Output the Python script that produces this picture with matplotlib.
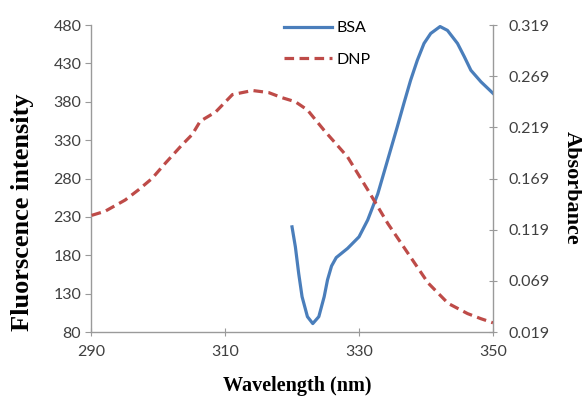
import matplotlib.pyplot as plt

# BSA fluorescence (left axis)
bsa_wl = [320.0, 320.5, 321.0, 321.5, 322.3, 323.1, 324.0, 324.8, 325.3, 325.9, 326.6, 328.3, 330.0,
          331.3, 332.8, 333.8, 334.7, 335.7, 336.7, 337.7, 338.7, 339.7, 340.7, 342.1, 343.2,
          344.7, 345.7, 346.7, 348.2, 350.0]
bsa_int = [217, 191, 156, 126, 100, 91, 100, 126, 148, 166, 177, 189, 204,
           226, 260, 290, 317, 347, 378, 408, 434, 456, 469, 478, 473,
           456, 439, 421, 406, 391]

# DNP absorbance (right axis)
dnp_wl = [290.1, 292.1, 295.1, 297.1, 299.1, 301.1, 303.6, 305.1, 306.3, 308.6, 311.1, 314.1,
          316.5, 318.5, 320.5, 322.3, 324.8, 328.3, 331.3, 334.3, 337.3, 340.3, 343.3, 346.2,
          348.2, 350.0]
dnp_abs = [0.133, 0.137, 0.148, 0.158, 0.169, 0.184, 0.202, 0.212, 0.225, 0.234, 0.251, 0.255,
           0.253, 0.248, 0.244, 0.236, 0.216, 0.190, 0.158, 0.125, 0.096, 0.067, 0.047, 0.037,
           0.032, 0.028]

left_ticks = [80, 130, 180, 230, 280, 330, 380, 430, 480]
right_ticks = [0.019, 0.069, 0.119, 0.169, 0.219, 0.269, 0.319]
x_ticks = [290, 310, 330, 350]

grey = '#9a9a9a'
txt = '#404040'

fig = plt.figure(figsize=(5.82, 3.97), dpi=100)
ax = fig.add_axes([0.1564, 0.1637, 0.6907, 0.7733])
ax2 = ax.twinx()

ax.plot(bsa_wl, bsa_int, color='#4a7ebb', lw=2.3, label='BSA', solid_joinstyle='round')
ax2.plot(dnp_wl, dnp_abs, color='#be4b48', lw=2.3, ls=(0, (3, 1.7)), label='DNP')

ax.set_xlim(290, 350)
ax.set_ylim(80, 480)
ax2.set_ylim(0.019, 0.319)
ax.set_xticks(x_ticks)
ax.set_yticks(left_ticks)
ax2.set_yticks(right_ticks)
ax2.set_yticklabels(['%.3f' % v for v in right_ticks])

for a in (ax, ax2):
    for s in a.spines.values():
        s.set_visible(False)
ax.spines['left'].set_visible(True)
ax.spines['bottom'].set_visible(True)
ax2.spines['right'].set_visible(True)
for s in (ax.spines['left'], ax.spines['bottom'], ax2.spines['right']):
    s.set_color(grey)
    s.set_linewidth(1.0)

tick_font = 'Lato'
ax.tick_params(axis='y', direction='out', length=4, color=grey, pad=3, labelsize=11.5, labelcolor=txt)
ax.tick_params(axis='x', direction='inout', length=6, color=grey, pad=6, labelsize=11.5, labelcolor=txt)
ax2.tick_params(axis='y', direction='inout', length=6, color=grey, pad=8, labelsize=11.5, labelcolor=txt)
for lab in ax.get_xticklabels() + ax.get_yticklabels() + ax2.get_yticklabels():
    lab.set_fontfamily(tick_font)

ax.set_xlabel('Wavelength (nm)', family='Liberation Serif', weight='bold', fontsize=14.5)
ax.set_ylabel('Fluorscence intensity', family='Liberation Serif', weight='bold', fontsize=19)
ax2.set_ylabel('Absorbance', family='Liberation Serif', weight='bold', fontsize=16, rotation=270)
ax.xaxis.set_label_coords(0.514, -0.143)
ax.yaxis.set_label_coords(-0.142, 0.391)
ax2.yaxis.set_label_coords(1.222, 0.469)

h1, l1 = ax.get_legend_handles_labels()
h2, l2 = ax2.get_legend_handles_labels()
ax.legend(h1 + h2, l1 + l2, loc='upper left', bbox_to_anchor=(0.445, 1.06), frameon=False,
          handlelength=3.0, handletextpad=0.3, labelspacing=1.1,
          prop={'family': tick_font, 'size': 11.5})

fig.savefig('out.png', dpi=100)
